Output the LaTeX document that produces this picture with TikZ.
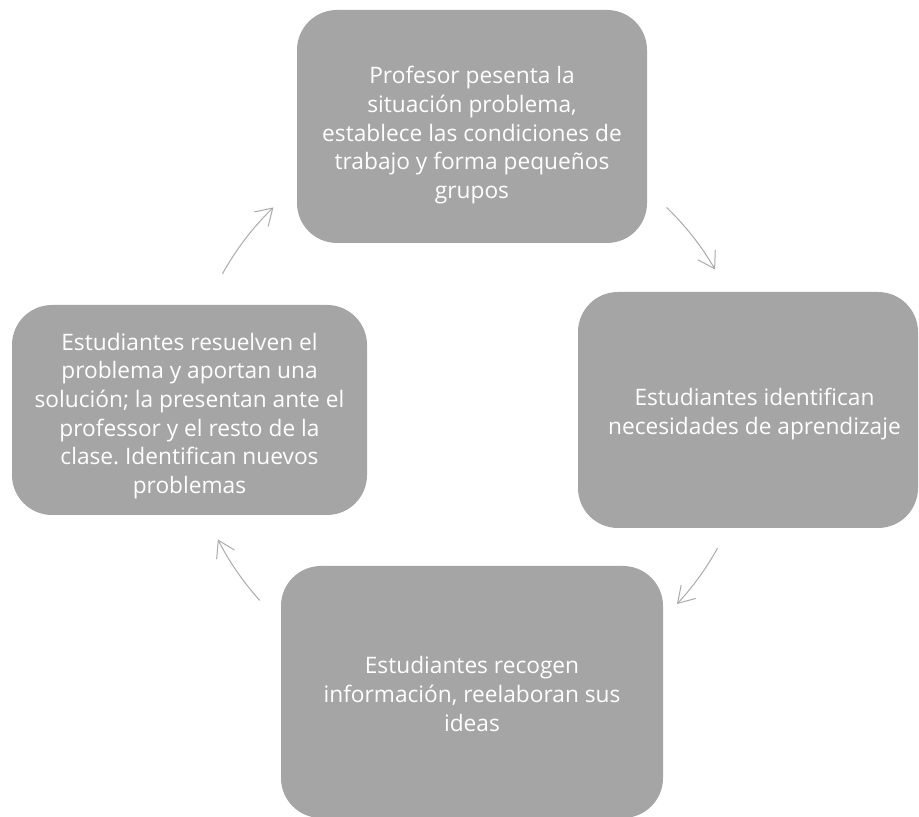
\documentclass[tikz,border=0pt]{standalone}
\usepackage{fontspec}
\setmainfont{Open Sans}
\usetikzlibrary{arrows.meta,calc}
\frenchspacing
\definecolor{boxgray}{HTML}{A5A5A5}
\definecolor{arrowgray}{HTML}{ABABAB}
% invisible strut on a first line: a taller first line pushes the text block down
\newcommand{\dropby}[1]{\rule{0pt}{#1}}
\tikzset{
  stage/.style={fill=boxgray, draw=none, rounded corners=40pt, text=white,
    align=center, inner sep=0pt,
    font=\fontsize{22.7pt}{28.7pt}\selectfont},
  cyclearrow/.style={draw=arrowgray, line width=1pt,
    -{Straight Barb[length=16pt, width=20pt, line width=1pt]}}
}
\begin{document}
\begin{tikzpicture}[x=1pt, y=1pt]
\useasboundingbox (0,0) rectangle (919,817);
\fill[white] (0,0) rectangle (919,817);

% the four stages of the cycle
\node[stage, minimum width=350pt, minimum height=233pt] (top) at (472,690.5)
  {\dropby{35pt}Profesor pesenta la\\situación problema,\\establece las condiciones de\\trabajo y forma pequeños\\grupos};
\node[stage, minimum width=340pt, minimum height=236pt] (right) at (748,407)
  {\dropby{25pt}\hspace*{13pt}Estudiantes identifican\\\hspace*{13pt}necesidades de aprendizaje};
\node[stage, minimum width=382pt, minimum height=252pt] (bottom) at (472,125)
  {\dropby{21pt}Estudiantes recogen\\información, reelaboran sus\\ideas};
\node[stage, minimum width=355pt, minimum height=210pt] (left) at (189.5,407)
  {\dropby{29pt}Estudiantes resuelven el\\problema y aportan una\\solución; la presentan ante el\\professor y el resto de la\\clase. Identifican nuevos\\problemas};

% arcs of the cycle, all on one circle around the centre
\coordinate (c) at (470,406);
\coordinate (s1) at ($(c)+(151:283)$);
\coordinate (s2) at ($(c)+(46:283)$);
\coordinate (s3) at ($(c)+(-29:283)$);
\coordinate (s4) at ($(c)+(-138:283)$);
\draw[cyclearrow] (s1) arc[start angle=151, end angle=134, radius=283];
\draw[cyclearrow] (s2) arc[start angle=46, end angle=30, radius=283];
\draw[cyclearrow] (s3) arc[start angle=-29, end angle=-43, radius=283];
\draw[cyclearrow] (s4) arc[start angle=-138, end angle=-153, radius=283];
\end{tikzpicture}
\end{document}
